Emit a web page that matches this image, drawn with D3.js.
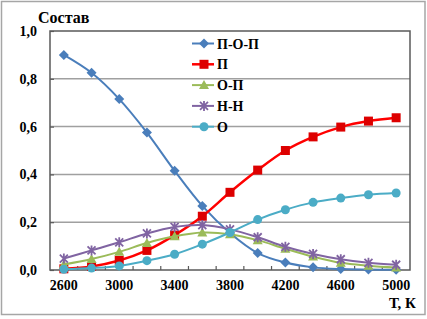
<!DOCTYPE html>
<html>
<head>
<meta charset="utf-8">
<script src="https://cdn.jsdelivr.net/npm/d3@7"></script>
<style>
  body { margin: 0; background: #fff; }
</style>
</head>
<body>
<div class="chart"></div>
<script>
// Temperatures (categories)
const temps = [2600, 2800, 3000, 3200, 3400, 3600, 3800, 4000, 4200, 4400, 4600, 4800, 5000];
const tickLabels = [2600, 3000, 3400, 3800, 4200, 4600, 5000];
const yTicks = [0, 0.2, 0.4, 0.6, 0.8, 1.0];
const seriesNames = ["П-О-П", "П", "О-П", "Н-Н", "О"];

// values
const popValues = [0.90, 0.825, 0.715, 0.575, 0.415, 0.268, 0.155, 0.071, 0.031, 0.011, 0.004, 0.002, 0.001];
const pValues = [0.005, 0.015, 0.040, 0.082, 0.146, 0.225, 0.325, 0.418, 0.500, 0.557, 0.598, 0.623, 0.637];
const opValues = [0.023, 0.046, 0.076, 0.113, 0.141, 0.157, 0.150, 0.125, 0.089, 0.056, 0.030, 0.018, 0.010];
const hhValues = [0.048, 0.082, 0.116, 0.153, 0.180, 0.188, 0.170, 0.137, 0.097, 0.067, 0.045, 0.030, 0.022];
const oValues = [0.003, 0.008, 0.017, 0.039, 0.066, 0.108, 0.157, 0.211, 0.252, 0.283, 0.301, 0.315, 0.322];

const colors = ["#4a7ebb", "#ff0000", "#9bbb59", "#8064a2", "#4bacc6"];
const markerColors = ["#4a7ebb", "#dd0000", "#9bbb59", "#8064a2", "#4bacc6"];
const allValues = [popValues, pValues, opValues, hhValues, oValues];

const width = 427, height = 319;
const margin = { top: 31, right: 17, bottom: 49, left: 50 };
const font = "'Liberation Serif', 'DejaVu Serif', 'Times New Roman', serif";

const svg = d3.select(".chart")
  .append("svg")
  .attr("width", width)
  .attr("height", height)
  .attr("font-family", font)
  .attr("font-weight", "bold");

// outer chart border
svg.append("rect")
  .attr("x", 1.5).attr("y", 1.5)
  .attr("width", 423.5).attr("height", 313)
  .attr("fill", "white")
  .attr("stroke", "#a6a6a6")
  .attr("stroke-width", 1.5);

const x = d3.scaleBand()
  .domain(temps)
  .range([margin.left, width - margin.right])
  .padding(0);

const y = d3.scaleLinear()
  .domain([0, 1])
  .range([height - margin.bottom, margin.top]);

const cx = d => x(d) + x.bandwidth() / 2;

// gridlines
svg.append("g")
  .selectAll("line")
  .data(yTicks.filter(d => d > 0 && d < 1))
  .join("line")
  .attr("x1", margin.left)
  .attr("x2", width - margin.right)
  .attr("y1", d => y(d))
  .attr("y2", d => y(d))
  .attr("stroke", "#a0a0a0")
  .attr("stroke-width", 1.5);

// plot area border
svg.append("rect")
  .attr("x", margin.left)
  .attr("y", margin.top)
  .attr("width", width - margin.right - margin.left)
  .attr("height", height - margin.bottom - margin.top)
  .attr("fill", "none")
  .attr("stroke", "#595959")
  .attr("stroke-width", 1.5);

// y ticks (inside) and labels
const yAxis = svg.append("g")
  .attr("transform", `translate(${margin.left},0)`)
  .call(d3.axisRight(y).tickValues(yTicks).tickSize(4).tickFormat(""));
yAxis.select(".domain").remove();
yAxis.selectAll("line").attr("stroke", "#595959").attr("stroke-width", 1.2);

svg.append("g")
  .selectAll("text")
  .data(yTicks)
  .join("text")
  .attr("x", 37)
  .attr("y", d => y(d) + 5)
  .attr("text-anchor", "end")
  .attr("font-family", font)
  .style("font-size", "14px")
  .text(d => d3.format(".1f")(d).replace(".", ","));

// x ticks between categories (inside)
const boundaries = temps.map(d => x(d)).concat([width - margin.right]);
svg.append("g")
  .selectAll("line")
  .data(boundaries.slice(1, -1))
  .join("line")
  .attr("x1", d => d).attr("x2", d => d)
  .attr("y1", y(0)).attr("y2", y(0) - 4)
  .attr("stroke", "#595959")
  .attr("stroke-width", 1.2);

svg.append("g")
  .selectAll("text")
  .data(tickLabels)
  .join("text")
  .attr("x", d => cx(d))
  .attr("y", 290)
  .attr("text-anchor", "middle")
  .attr("font-family", font)
  .style("font-size", "14px")
  .text(d => d);

// axis titles
svg.append("text")
  .attr("x", 38)
  .attr("y", 23)
  .attr("font-family", font)
  .style("font-size", "16px")
  .text("Состав");

svg.append("text")
  .attr("x", 416)
  .attr("y", 308)
  .attr("text-anchor", "end")
  .attr("font-family", font)
  .style("font-size", "15px")
  .text("Т, К");

// markers
function drawMarker(g, i, px, py) {
  const c = markerColors[i];
  if (i === 0) {
    g.append("path")
      .attr("d", `M${px},${py - 5}L${px + 5},${py}L${px},${py + 5}L${px - 5},${py}Z`)
      .attr("fill", c);
  } else if (i === 1) {
    g.append("rect")
      .attr("x", px - 4.5).attr("y", py - 4.5)
      .attr("width", 9).attr("height", 9)
      .attr("fill", c);
  } else if (i === 2) {
    g.append("path")
      .attr("d", `M${px},${py - 5}L${px + 5},${py + 4}L${px - 5},${py + 4}Z`)
      .attr("fill", c);
  } else if (i === 3) {
    g.append("path")
      .attr("d", `M${px - 4},${py - 4}L${px + 4},${py + 4}M${px - 4},${py + 4}L${px + 4},${py - 4}M${px},${py - 5}L${px},${py + 5}`)
      .attr("stroke", c)
      .attr("stroke-width", 1.8)
      .attr("fill", "none");
  } else {
    g.append("circle")
      .attr("cx", px).attr("cy", py)
      .attr("r", 4.5)
      .attr("fill", c);
  }
}

const line = d3.line()
  .x((d, i) => cx(temps[i]))
  .y(d => y(d))
  .curve(d3.curveCatmullRom.alpha(0.5));

allValues.forEach((vals, i) => {
  const g = svg.append("g");
  g.append("path")
    .attr("d", line(vals))
    .attr("fill", "none")
    .attr("stroke", colors[i])
    .attr("stroke-width", i === 1 ? 2.5 : 2);
  vals.forEach((v, j) => drawMarker(g, i, cx(temps[j]), y(v)));
});

// legend
const legend = svg.append("g")
  .attr("transform", "translate(192, 43.5)");

seriesNames.forEach((name, i) => {
  const row = legend.append("g")
    .attr("transform", `translate(0, ${i * 20.8})`);
  row.append("line")
    .attr("x1", 0).attr("x2", 22)
    .attr("y1", 0).attr("y2", 0)
    .attr("stroke", colors[i])
    .attr("stroke-width", i === 1 ? 2.5 : 2);
  drawMarker(row, i, 12, 0);
  row.append("text")
    .attr("x", 25)
    .attr("y", 5)
    .attr("font-family", font)
    .style("font-size", "14px")
    .text(name);
});
</script>
</body>
</html>
